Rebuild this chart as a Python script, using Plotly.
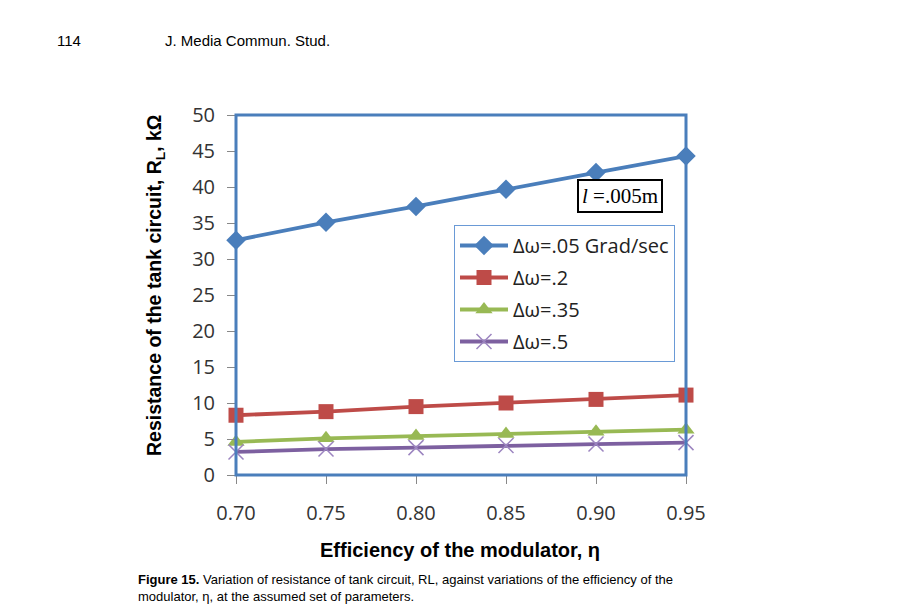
import plotly.graph_objects as go

efficiency = [0.70, 0.75, 0.80, 0.85, 0.90, 0.95]
rl_dw_005 = [32.6, 35.1, 37.3, 39.7, 42.0, 44.3]
rl_dw_02 = [8.3, 8.8, 9.5, 10.0, 10.5, 11.1]
rl_dw_035 = [4.6, 5.1, 5.4, 5.7, 6.0, 6.3]
rl_dw_05 = [3.2, 3.6, 3.8, 4.1, 4.3, 4.5]
series_names = ["Δω=.05 Grad/sec", "Δω=.2", "Δω=.35", "Δω=.5"]
x_ticks = [0.70, 0.75, 0.80, 0.85, 0.90, 0.95]
x_tick_labels = ["0.70", "0.75", "0.80", "0.85", "0.90", "0.95"]
y_ticks = [0, 5, 10, 15, 20, 25, 30, 35, 40, 45, 50]

# target plot-area edges in screen pixels (page has an 8px body margin)
L, R, T, B = 236, 686, 115, 475
OFF = 8
W, H = 911 - OFF, 614 - OFF
def px(x):
    return (x - L) / (R - L)
def py(y):
    return (B - y) / (B - T)

fig = go.Figure()
styles = [
    dict(color="#4A7EBB", symbol="diamond", size=15, mline=0, mcolor="#4A7EBB"),
    dict(color="#BE4B48", symbol="square", size=15, mline=0, mcolor="#BE4B48"),
    dict(color="#98B954", symbol="triangle-up", size=15, mline=0, mcolor="#98B954"),
    dict(color="#7D60A0", symbol="x-thin", size=15, mline=1.5, mcolor="#9C85C0"),
]
for i, (vals, name, st) in enumerate(zip([rl_dw_005, rl_dw_02, rl_dw_035, rl_dw_05], series_names, styles)):
    fig.add_trace(go.Scatter(
        x=efficiency, y=vals, name=name, mode="lines+markers",
        line=dict(color=st["color"], width=3.8),
        marker=dict(symbol=st["symbol"], size=st["size"], color=st["mcolor"],
                    line=dict(width=st["mline"], color=st["mcolor"])),
        cliponaxis=False, legendgroup=str(i),
    ))

fig.update_layout(
    width=W, height=H,
    margin=dict(l=L - OFF, r=W - (R - OFF), t=T - OFF, b=H - (B - OFF), pad=0),
    paper_bgcolor="white", plot_bgcolor="white",
    font=dict(family="Open Sans", color="#333"),
    showlegend=True,
    legend=dict(
        x=px(454), y=py(225), xanchor="left", yanchor="top",
        bordercolor="#6A9AD6", borderwidth=1, bgcolor="white",
        font=dict(family="Open Sans", size=20, color="#222"),
        itemwidth=48, tracegroupgap=3,
    ),
    xaxis=dict(
        range=[0.70, 0.95], tickvals=x_ticks, ticktext=x_tick_labels,
        showgrid=False, zeroline=False, showline=True, linecolor="#888", linewidth=1,
        ticks="outside", ticklen=8, tickcolor="#888", ticklabelstandoff=12,
        tickfont=dict(family="Open Sans", size=20, color="#333"),
    ),
    yaxis=dict(
        range=[0, 50], tickvals=y_ticks,
        showgrid=False, zeroline=False, showline=True, linecolor="#888", linewidth=1,
        ticks="outside", ticklen=8, tickcolor="#888", ticklabelstandoff=8,
        tickfont=dict(family="Open Sans", size=20, color="#333"),
    ),
)

fig.add_shape(type="rect", xref="paper", yref="paper", x0=0, y0=0, x1=1, y1=1,
              line=dict(color="#4A7EBB", width=3), layer="above")

fig.add_annotation(xref="paper", yref="paper", x=px(620), y=py(196),
                   xanchor="center", yanchor="middle",
                   text="<i>l</i> =.005m", showarrow=False,
                   font=dict(family="Liberation Serif", size=21, color="black"),
                   bordercolor="black", borderwidth=2, borderpad=3, bgcolor="white")

fig.add_annotation(xref="paper", yref="paper", x=px(460), y=py(550),
                   xanchor="center", yanchor="middle",
                   text="<b>Efficiency of the modulator, η</b>", showarrow=False,
                   font=dict(family="Liberation Sans", size=20, color="black"))
fig.add_annotation(xref="paper", yref="paper", x=px(155), y=py(285), textangle=-90,
                   xanchor="center", yanchor="middle",
                   text="<b>Resistance of the tank circuit, R<sub>L</sub>, kΩ</b>", showarrow=False,
                   font=dict(family="Liberation Sans", size=19.5, color="black"))

fig.add_annotation(xref="paper", yref="paper", x=px(55), y=py(40), xanchor="left", yanchor="middle",
                   text="114", showarrow=False,
                   font=dict(family="Liberation Sans", size=15, color="black"))
fig.add_annotation(xref="paper", yref="paper", x=px(163), y=py(40), xanchor="left", yanchor="middle",
                   text="J. Media Commun. Stud.", showarrow=False,
                   font=dict(family="Liberation Sans", size=15, color="black"))
fig.add_annotation(xref="paper", yref="paper", x=px(136), y=py(588), xanchor="left", yanchor="middle",
                   align="left",
                   text="<b>Figure 15.</b> Variation of resistance of tank circuit, RL, against variations of the efficiency of the<br>modulator, η, at the assumed set of parameters.",
                   showarrow=False,
                   font=dict(family="Liberation Sans", size=13, color="black"))

fig.write_html("out.html")
